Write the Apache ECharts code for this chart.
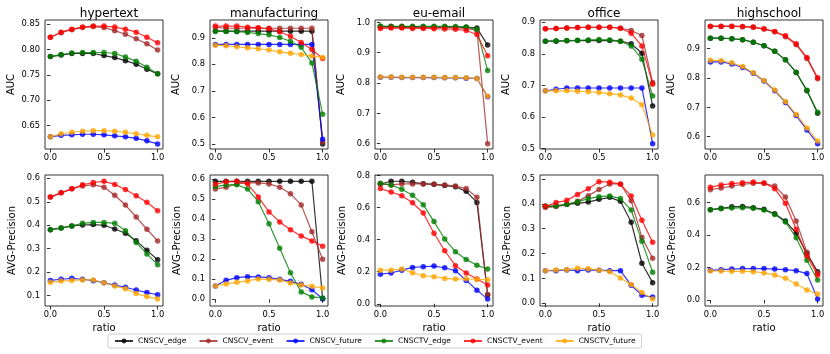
<!DOCTYPE html>
<html><head><meta charset="utf-8">
<script src="https://cdn.jsdelivr.net/npm/echarts@6/dist/echarts.min.js"></script>
<style>html,body{margin:0;padding:0;background:#fff}#c{width:830px;height:354px}</style>
</head><body><div id="c"></div>
<script>
const ratios = [0.0,0.1,0.2,0.3,0.4,0.5,0.6,0.7,0.8,0.9,1.0];
const seriesNames = ['CNSCV_edge','CNSCV_event','CNSCV_future','CNSCTV_edge','CNSCTV_event','CNSCTV_future'];
const seriesColors = ['#000000','#a52a2a','#0000ff','#008000','#ff0000','#ffa500'];
const datasetNames = ['hypertext','manufacturing','eu-email','office','highschool'];
const xTicks = [0.0,0.5,1.0];

// AUC values, series order as seriesNames
const hypertext_AUC = [
  [0.786,0.789,0.792,0.792,0.792,0.788,0.784,0.778,0.771,0.761,0.752],
  [0.824,0.833,0.839,0.843,0.845,0.843,0.837,0.830,0.821,0.811,0.799],
  [0.628,0.631,0.632,0.633,0.633,0.632,0.630,0.628,0.625,0.620,0.614],
  [0.786,0.790,0.793,0.794,0.794,0.794,0.792,0.785,0.777,0.765,0.752],
  [0.824,0.834,0.840,0.844,0.846,0.846,0.844,0.840,0.834,0.824,0.813],
  [0.628,0.634,0.637,0.639,0.640,0.640,0.639,0.637,0.634,0.631,0.628]];
const manufacturing_AUC = [
  [0.926,0.925,0.925,0.925,0.925,0.925,0.925,0.925,0.925,0.925,0.500],
  [0.939,0.936,0.936,0.936,0.936,0.936,0.936,0.936,0.936,0.936,0.508],
  [0.875,0.875,0.875,0.875,0.875,0.875,0.875,0.875,0.875,0.875,0.518],
  [0.924,0.924,0.923,0.920,0.916,0.911,0.901,0.887,0.864,0.805,0.612],
  [0.944,0.944,0.944,0.940,0.938,0.934,0.923,0.906,0.882,0.856,0.822],
  [0.872,0.870,0.866,0.862,0.859,0.854,0.847,0.842,0.837,0.831,0.826]];
const euemail_AUC = [
  [0.986,0.986,0.986,0.985,0.985,0.985,0.985,0.984,0.984,0.981,0.925],
  [0.984,0.984,0.983,0.983,0.983,0.983,0.983,0.982,0.980,0.973,0.600],
  [0.819,0.819,0.818,0.818,0.818,0.818,0.817,0.817,0.816,0.815,0.755],
  [0.988,0.987,0.987,0.987,0.987,0.987,0.987,0.986,0.985,0.977,0.841],
  [0.980,0.981,0.981,0.980,0.980,0.979,0.978,0.977,0.973,0.960,0.890],
  [0.820,0.820,0.819,0.819,0.819,0.819,0.818,0.818,0.817,0.815,0.756]];
const office_AUC = [
  [0.840,0.840,0.841,0.842,0.842,0.842,0.842,0.840,0.832,0.802,0.635],
  [0.879,0.880,0.882,0.883,0.884,0.884,0.884,0.881,0.874,0.858,0.709],
  [0.683,0.688,0.692,0.692,0.692,0.692,0.692,0.692,0.692,0.692,0.516],
  [0.840,0.841,0.842,0.843,0.844,0.845,0.844,0.840,0.825,0.783,0.667],
  [0.879,0.880,0.882,0.883,0.884,0.884,0.884,0.881,0.865,0.825,0.704],
  [0.683,0.683,0.683,0.682,0.680,0.678,0.674,0.670,0.660,0.639,0.543]];
const highschool_AUC = [
  [0.936,0.936,0.934,0.931,0.922,0.910,0.891,0.862,0.819,0.757,0.680],
  [0.976,0.976,0.976,0.975,0.973,0.967,0.958,0.941,0.914,0.867,0.798],
  [0.855,0.855,0.848,0.836,0.816,0.790,0.757,0.717,0.672,0.623,0.576],
  [0.936,0.936,0.934,0.931,0.922,0.910,0.891,0.862,0.820,0.758,0.683],
  [0.977,0.977,0.977,0.976,0.974,0.968,0.959,0.944,0.917,0.870,0.801],
  [0.861,0.859,0.852,0.839,0.818,0.792,0.759,0.720,0.676,0.630,0.585]];

// AVG-Precision values
const hypertext_AP = [
  [0.381,0.388,0.397,0.401,0.403,0.400,0.384,0.366,0.334,0.293,0.253],
  [0.520,0.538,0.555,0.567,0.573,0.562,0.528,0.486,0.435,0.383,0.333],
  [0.165,0.170,0.174,0.170,0.164,0.155,0.145,0.136,0.124,0.113,0.104],
  [0.381,0.388,0.397,0.408,0.412,0.412,0.408,0.377,0.326,0.278,0.232],
  [0.520,0.538,0.555,0.572,0.582,0.587,0.574,0.552,0.526,0.498,0.462],
  [0.157,0.162,0.165,0.167,0.167,0.155,0.141,0.130,0.109,0.096,0.086]];
const manufacturing_AP = [
  [0.590,0.590,0.590,0.590,0.590,0.590,0.590,0.590,0.590,0.590,0.003],
  [0.552,0.560,0.577,0.583,0.582,0.577,0.560,0.528,0.472,0.338,0.200],
  [0.067,0.095,0.108,0.113,0.112,0.108,0.100,0.090,0.075,0.048,0.003],
  [0.563,0.572,0.573,0.552,0.488,0.378,0.255,0.133,0.037,0.012,0.007],
  [0.575,0.588,0.590,0.577,0.512,0.437,0.387,0.348,0.317,0.292,0.265],
  [0.067,0.077,0.085,0.092,0.102,0.100,0.097,0.082,0.072,0.065,0.057]];
const euemail_AP = [
  [0.748,0.765,0.765,0.758,0.750,0.746,0.738,0.731,0.702,0.633,0.056],
  [0.748,0.742,0.748,0.748,0.748,0.746,0.742,0.735,0.719,0.665,0.056],
  [0.185,0.192,0.210,0.227,0.231,0.235,0.225,0.206,0.146,0.085,0.029],
  [0.752,0.742,0.715,0.677,0.619,0.513,0.404,0.325,0.277,0.240,0.217],
  [0.719,0.698,0.675,0.631,0.567,0.440,0.331,0.238,0.192,0.154,0.117],
  [0.210,0.210,0.217,0.194,0.175,0.169,0.158,0.154,0.156,0.152,0.150]];
const office_AP = [
  [0.390,0.392,0.398,0.402,0.407,0.418,0.426,0.410,0.326,0.161,0.083],
  [0.385,0.389,0.397,0.410,0.433,0.458,0.480,0.480,0.412,0.265,0.181],
  [0.131,0.131,0.134,0.131,0.134,0.133,0.131,0.131,0.072,0.032,0.025],
  [0.390,0.391,0.398,0.408,0.421,0.429,0.432,0.421,0.375,0.249,0.125],
  [0.390,0.405,0.414,0.438,0.461,0.489,0.487,0.479,0.432,0.334,0.245],
  [0.131,0.134,0.135,0.141,0.139,0.133,0.127,0.102,0.075,0.043,0.017]];
const highschool_AP = [
  [0.555,0.563,0.573,0.575,0.567,0.557,0.530,0.485,0.410,0.285,0.174],
  [0.678,0.688,0.700,0.711,0.717,0.717,0.700,0.633,0.485,0.293,0.164],
  [0.182,0.186,0.190,0.193,0.193,0.193,0.190,0.186,0.180,0.162,0.006],
  [0.555,0.561,0.565,0.567,0.563,0.553,0.526,0.479,0.383,0.244,0.123],
  [0.692,0.707,0.715,0.721,0.725,0.719,0.684,0.594,0.434,0.270,0.154],
  [0.178,0.178,0.176,0.176,0.174,0.166,0.154,0.133,0.098,0.061,0.037]];

// y tick labels per panel
const aucTicks = [
  [0.65,0.70,0.75,0.80,0.85],
  [0.5,0.6,0.7,0.8,0.9],
  [0.6,0.7,0.8,0.9,1.0],
  [0.5,0.6,0.7,0.8,0.9],
  [0.6,0.7,0.8,0.9]];
const apTicks = [
  [0.1,0.2,0.3,0.4,0.5,0.6],
  [0.0,0.1,0.2,0.3,0.4,0.5,0.6],
  [0.0,0.2,0.4,0.6,0.8],
  [0.0,0.1,0.2,0.3,0.4,0.5],
  [0.0,0.2,0.4,0.6]];
const aucRanges = [[0.604,0.858],[0.481,0.967],[0.5825,1.0077],[0.499,0.907],[0.558,0.998]];
const apRanges = [[0.056,0.614],[-0.0335,0.6215],[-0.014,0.804],[-0.011,0.516],[-0.037,0.768]];

const aucData = [hypertext_AUC, manufacturing_AUC, euemail_AUC, office_AUC, highschool_AUC];
const apData = [hypertext_AP, manufacturing_AP, euemail_AP, office_AP, highschool_AP];

const FONT = 'DejaVu Sans';
const lefts = [45,210,375,540,705];
const W = 118;
const rows = [{top:20,height:129},{top:175,height:131}];

const grid=[], xAxis=[], yAxis=[], series=[], title=[];
for (let r=0;r<2;r++){
  for (let c=0;c<5;c++){
    const gi = r*5+c;
    grid.push({left:lefts[c], top:rows[r].top, width:W, height:rows[r].height,
      show:true, borderColor:'#000', borderWidth:0.8, backgroundColor:'transparent'});
    xAxis.push({type:'value', gridIndex:gi, min:-0.05, max:1.05,
      axisLine:{show:false}, splitLine:{show:false},
      axisTick:{show:true, length:3.5, lineStyle:{color:'#000',width:0.8}, customValues:xTicks},
      axisLabel:{show:true, fontFamily:FONT, fontSize:8.3, color:'#000', margin:5, customValues:xTicks,
        formatter:v=>v.toFixed(1)},
      name: r===1 ? 'ratio' : '', nameLocation:'middle', nameGap:17,
      nameTextStyle:{fontFamily:FONT, fontSize:10, color:'#000'}});
    const ticks = r===0 ? aucTicks[c] : apTicks[c];
    const rng = r===0 ? aucRanges[c] : apRanges[c];
    const dec = (r===0 && c===0) ? 2 : 1;
    yAxis.push({type:'value', gridIndex:gi, min:rng[0], max:rng[1],
      axisLine:{show:false}, splitLine:{show:false},
      axisTick:{show:true, length:3.5, lineStyle:{color:'#000',width:0.8}, customValues:ticks},
      axisLabel:{show:true, fontFamily:FONT, fontSize:8.3, color:'#000', margin:5, customValues:ticks,
        formatter:v=>v.toFixed(dec)},
      name: r===0 ? 'AUC' : 'AVG-Precision', nameLocation:'middle',
      nameGap: r===0 ? 29 : 28,
      nameTextStyle:{fontFamily:FONT, fontSize:10, color:'#000'}});
    if (r===0) {
      title.push({text:datasetNames[c], left:lefts[c]+W/2, top:3, textAlign:'center',
        textStyle:{fontFamily:FONT, fontSize:12, fontWeight:'normal', color:'#000'}});
    }
    const data = r===0 ? aucData[c] : apData[c];
    for (let s=0;s<6;s++){
      series.push({type:'line', name:seriesNames[s], xAxisIndex:gi, yAxisIndex:gi,
        data: ratios.map((x,i)=>[x, data[s][i]]),
        symbol:'circle', symbolSize:5.5, showSymbol:true,
        lineStyle:{width:1.2, color:seriesColors[s], opacity:0.8},
        itemStyle:{color:seriesColors[s], opacity:0.8},
        emphasis:{disabled:true}, animation:false, z:2+s});
    }
  }
}

const chart = echarts.init(document.getElementById('c'), null, {renderer:'canvas'});
chart.setOption({
  animation:false,
  title, grid, xAxis, yAxis, series,
  legend:{data:seriesNames, left:108, top:334, itemWidth:18, itemHeight:6, itemGap:12,
    padding:[3,6,3,6], borderColor:'#ccc', borderWidth:1, borderRadius:2,
    textStyle:{fontFamily:FONT, fontSize:7.5, color:'#000'}, selectedMode:false}
});
</script>
</body></html>
